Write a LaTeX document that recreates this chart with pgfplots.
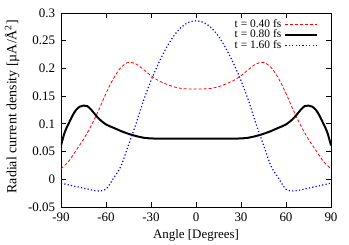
\documentclass[border=0pt]{standalone}
\usepackage{pgfplots}
\pgfplotsset{compat=1.18}
\usepackage{fontspec}
\setmainfont{Liberation Serif}
\begin{document}
\begin{tikzpicture}
\begin{axis}[
  scale only axis,
  width=270bp, height=194bp,
  xmin=-90, xmax=90, ymin=-0.05, ymax=0.3,
  xtick={-90,-60,-30,0,30,60,90},
  xticklabels={-90,-60,-30,0,30,60,90},
  ytick={-0.05,0,0.05,0.1,0.15,0.2,0.25,0.3},
  yticklabels={-0.05,0,0.05,0.1,0.15,0.2,0.25,0.3},
  scaled ticks=false,
  tick align=inside,
  major tick length=5bp,
  every tick/.style={line width=0.8bp, black},
  axis line style={line width=0.9bp},
  tick label style={font=\fontsize{13}{15}\selectfont},
  xticklabel style={yshift=-2.5bp},
  yticklabel style={xshift=-2.5bp},
  label style={font=\fontsize{13}{15}\selectfont},
  xlabel={Angle [Degrees]},
  ylabel={Radial current density [µA/Å\textsuperscript{2}]},
  xlabel style={at={(axis description cs:0.5,-0.144)}, anchor=center},
  ylabel style={at={(axis description cs:-0.181,0.517)}, anchor=center, font=\fontsize{14}{16}\selectfont},
  legend style={draw=none, fill=none, inner sep=0bp, outer sep=0bp,
    at={(axis description cs:0.953,0.969)}, anchor=north east,
    font=\fontsize{11.5}{12}\selectfont, row sep=0bp, column sep=3bp,
    nodes={inner sep=0bp, text height=8bp, text depth=2.7bp}},
  legend cell align=right,
  legend plot pos=right,
  legend image code/.code={\draw[#1] (0bp,0bp) -- (32bp,0bp);},
]
\addplot[red, line width=0.8bp, dash pattern=on 3bp off 2bp, smooth] coordinates {
(-90,0.019) (-85,0.032) (-80,0.052) (-75,0.072) (-70,0.096) (-65,0.124) (-60,0.155)
(-55,0.182) (-50,0.202) (-45,0.211) (-40,0.208) (-35,0.198) (-30,0.187) (-25,0.178)
(-20,0.172) (-15,0.167) (-10,0.164) (-5,0.163) (0,0.163)
(5,0.163) (10,0.164) (15,0.167) (20,0.172) (25,0.178) (30,0.187) (35,0.198) (40,0.208)
(45,0.211) (50,0.202) (55,0.182) (60,0.155) (65,0.124) (70,0.096) (75,0.072) (80,0.052)
(85,0.032) (90,0.019)
};
\addlegendentry{t = 0.40 fs}
\addplot[black, line width=2bp, smooth] coordinates {
(-90,0.061) (-87.5,0.085) (-85,0.100) (-82.5,0.114) (-80,0.125) (-77.5,0.131) (-75,0.133)
(-72.5,0.132) (-70,0.126) (-65,0.110) (-60,0.099) (-55,0.093) (-50,0.087) (-45,0.082)
(-40,0.078) (-35,0.075) (-30,0.0737) (-25,0.0735) (-15,0.0735) (0,0.0735)
(15,0.0735) (25,0.0735) (30,0.0737) (35,0.075) (40,0.078) (45,0.082) (50,0.087)
(55,0.093) (60,0.099) (65,0.110) (70,0.126) (72.5,0.132) (75,0.133) (77.5,0.131)
(80,0.125) (82.5,0.114) (85,0.100) (87.5,0.085) (90,0.061)
};
\addlegendentry{t = 0.80 fs}
\addplot[blue, line width=1.2bp, dash pattern=on 1.2bp off 2.2bp, smooth] coordinates {
(-90,-0.007) (-85,-0.010) (-80,-0.013) (-75,-0.016) (-70,-0.019) (-65,-0.021) (-60,-0.018)
(-55,0.002) (-50,0.024) (-45,0.062) (-40,0.100) (-35,0.142) (-30,0.178) (-25,0.209)
(-20,0.236) (-15,0.258) (-10,0.274) (-5,0.283) (0,0.286)
(5,0.283) (10,0.274) (15,0.258) (20,0.236) (25,0.209) (30,0.178) (35,0.142) (40,0.100)
(45,0.062) (50,0.024) (55,0.002) (60,-0.018) (65,-0.021) (70,-0.019) (75,-0.016)
(80,-0.013) (85,-0.010) (90,-0.007)
};
\addlegendentry{t = 1.60 fs}
\end{axis}
\pgfresetboundingbox
\path[use as bounding box] (-61bp,-38bp) rectangle (288bp,207bp);
\end{tikzpicture}
\end{document}
